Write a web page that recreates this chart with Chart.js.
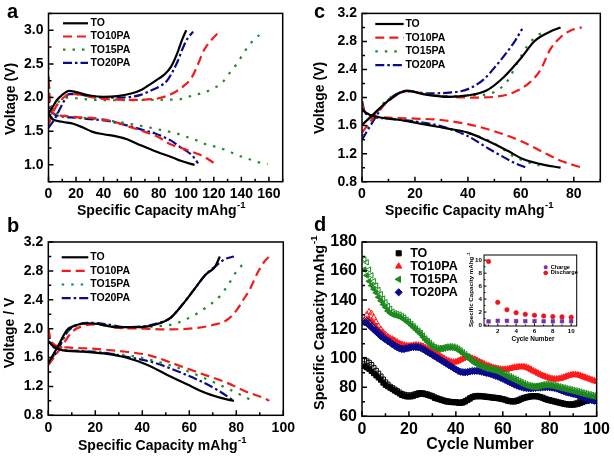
<!DOCTYPE html>
<html>
<head>
<meta charset="utf-8">
<script src="https://cdn.jsdelivr.net/npm/chart.js@4.4.1/dist/chart.umd.min.js"></script>
<style>
  html, body { margin: 0; padding: 0; background: #fff; }
  #wrap { position: relative; width: 614px; height: 456px; }
  canvas { position: absolute; left: 0; top: 0; }
</style>
</head>
<body>
<div id="wrap">
  <canvas id="ca" width="614" height="456"></canvas>
  <canvas id="cb" width="614" height="456"></canvas>
  <canvas id="cc" width="614" height="456"></canvas>
  <canvas id="cd" width="614" height="456"></canvas>
  <canvas id="ci" width="614" height="456"></canvas>
</div>
<script>
// ---- data: panel a, [capacity, voltage] ----
const aTOc = [[0,1.77],[3,1.86],[6,1.96],[10,2.04],[15,2.10],[20,2.08],[30,2.03],[40,2.01],[50,2.02],[60,2.06],[68,2.12],[74,2.20],[80,2.28],[84,2.34],[89,2.46],[93.5,2.66],[97,2.86],[100,3.0]];
const aTOd = [[0,1.76],[3,1.68],[10,1.64],[18,1.61],[25,1.555],[32,1.49],[40,1.455],[50,1.42],[57,1.38],[67,1.29],[79,1.19],[90,1.11],[96,1.06],[106,1.0]];
const a10c = [[0,1.6],[5,1.85],[10,1.98],[15,2.05],[20,2.05],[30,2.01],[40,1.98],[50,1.97],[60,1.965],[70,1.97],[80,1.99],[90,2.06],[98,2.17],[104,2.30],[108,2.47],[113,2.71],[118,2.85],[125,3.0]];
const a10d = [[0,2.28],[1,1.95],[3,1.78],[10,1.73],[20,1.71],[35,1.69],[47,1.645],[59,1.565],[70,1.49],[80,1.41],[88,1.31],[98,1.24],[106,1.18],[113,1.12],[120,1.03]];
const a15c = [[0,1.68],[3,1.8],[8,1.95],[12,2.0],[20,1.99],[30,1.97],[50,1.96],[74,1.965],[89,1.97],[97,1.98],[104.5,2.03],[112,2.07],[119,2.13],[126,2.22],[132,2.38],[137,2.51],[141,2.64],[146,2.79],[153,2.93]];
const a15d = [[0,2.45],[0.5,2.2],[1.5,2.0],[3,1.82],[6,1.76],[12,1.73],[20,1.71],[35,1.68],[50,1.64],[67,1.58],[79,1.53],[86,1.50],[94,1.46],[101,1.41],[108,1.36],[115,1.30],[123,1.26],[130,1.21],[137,1.145],[145,1.09],[152,1.04],[159,1.01]];
const a20c = [[0,1.55],[5,1.7],[10,1.9],[15,2.05],[20,2.05],[30,2.02],[40,2.0],[50,2.0],[60,2.01],[67,2.04],[74,2.1],[81,2.17],[86,2.25],[90,2.38],[94,2.55],[97,2.71],[101,2.88],[105,2.98]];
const a20d = [[0,2.05],[1,1.85],[3,1.77],[10,1.72],[20,1.7],[30,1.68],[45,1.645],[60,1.57],[70,1.51],[77,1.47],[84,1.41],[89,1.36],[96,1.26],[101,1.195],[106,1.10],[108.5,1.02]];

// ---- panel b ----
const bTOc = [[0,1.52],[4,1.75],[8,1.98],[12,2.05],[17,2.075],[22,2.06],[29,2.02],[39,2.02],[46,2.06],[52,2.15],[57,2.33],[62,2.54],[67,2.75],[71,2.86],[73,3.0]];
const bTOd = [[0,1.83],[2,1.76],[5,1.71],[15,1.68],[25,1.65],[33,1.60],[42,1.50],[50,1.37],[59,1.23],[67,1.11],[76,1.02],[79,1.0]];
const b10c = [[0,1.5],[5,1.72],[10,1.95],[15,2.04],[20,2.06],[30,2.01],[40,2.0],[50,1.99],[60,2.0],[70,2.05],[76,2.12],[80,2.25],[83,2.4],[86,2.56],[89,2.77],[92,2.93],[94,3.0]];
const b10d = [[0,2.0],[1,1.85],[3,1.77],[8,1.74],[20,1.72],[30,1.69],[43,1.63],[53,1.52],[64,1.39],[76,1.25],[84,1.13],[93,1.02],[94,1.0]];
const b15c = [[0,1.5],[4,1.72],[8,1.96],[13,2.05],[18,2.07],[25,2.04],[35,2.01],[45,2.03],[53,2.06],[60,2.15],[67,2.29],[73,2.45],[77,2.63],[80,2.79],[84,2.93]];
const b15d = [[0,1.95],[1,1.8],[4,1.72],[15,1.69],[28,1.65],[36,1.62],[43,1.57],[55,1.46],[66,1.32],[77,1.16],[87,1.0]];
const b20c = [[0,1.5],[4,1.7],[8,1.95],[12,2.05],[18,2.08],[25,2.06],[33,2.02],[40,2.03],[46,2.07],[52,2.15],[57,2.33],[62,2.54],[67,2.75],[71,2.86],[75,2.96],[79,3.0]];
const b20d = [[0,1.98],[1,1.8],[4,1.72],[15,1.69],[25,1.66],[35,1.6],[45,1.53],[55,1.41],[65,1.27],[72,1.15],[79,1.0]];

// ---- panel c ----
const cTOc = [[0,1.61],[4,1.75],[9.4,1.94],[17,2.1],[23,2.05],[33,2.01],[40,2.03],[47,2.1],[53.5,2.29],[60,2.56],[65,2.8],[67.5,2.87],[71,2.94],[75,3.0]];
const cTOd = [[0,1.84],[2,1.77],[5,1.73],[14.5,1.68],[23,1.62],[32,1.56],[40,1.5],[47,1.39],[55,1.24],[61,1.12],[67,1.055],[75,1.0]];
const c10c = [[0,1.5],[5,1.75],[10,1.95],[17,2.09],[25,2.04],[33,2.01],[42,2.0],[50,2.01],[57,2.07],[63.5,2.22],[67.5,2.4],[71,2.68],[75,2.86],[79,2.96],[83,3.0]];
const c10d = [[0,1.9],[1,1.8],[4,1.74],[12,1.71],[20,1.7],[30,1.68],[40,1.62],[50,1.52],[60,1.38],[70,1.19],[75,1.1],[83,1.0]];
const c15c = [[0,1.45],[4,1.7],[9,1.95],[17,2.09],[25,2.04],[33,2.02],[42,2.03],[50,2.08],[55,2.24],[58.6,2.49],[62.3,2.73],[66,2.88],[68,2.92]];
const c15d = [[0,1.9],[2,1.78],[5,1.73],[14.5,1.68],[23,1.63],[32,1.56],[40,1.49],[47,1.40],[52,1.3],[56,1.19],[61,1.1],[67,1.03]];
const c20c = [[0,1.4],[4,1.65],[9,1.93],[17,2.09],[25,2.06],[33,2.07],[40,2.12],[46,2.26],[51,2.47],[55,2.66],[58,2.82],[60.5,2.98]];
const c20d = [[0,1.95],[1,1.8],[3,1.74],[10,1.70],[20,1.66],[30,1.59],[40,1.45],[47,1.29],[53.5,1.15],[58,1.06],[62,1.0]];

// ---- panel d: capacity per cycle (filled = discharge, open = charge) ----
const cycles = Array.from({length: 100}, (_, i) => i + 1);
const dTOd = [94.5,93.5,92.5,91,89.5,88,86.5,85,83,81.5,
  80.5,79.5,78.5,77.5,76.5,75.5,74.5,74,73.5,73.5,
  73.5,74,74.5,75,75.5,75.3,75,74.5,74,73.5,
  72.5,72,71.5,71,70.5,70,69.8,69.6,69.5,69.4,
  69.2,69,69.3,70,71,72,73,73.5,73.6,73.6,
  73.6,73.4,73.2,73,72.8,72.6,72.4,72.2,72,71.6,
  71.2,70.6,70.2,70,70,70.4,71,71.8,72.4,72.8,
  73.2,73.5,73.6,73.6,73.4,73,72.5,71.8,71.2,70.8,
  70.4,70,69.6,69.2,68.8,68.4,68.1,67.9,67.8,67.8,
  68,68.4,69,69.6,70.2,70.6,71,71.2,71.2,71];
const dTOc = [99,98,97,95.5,93.5,91.5,89.5,87.5,85.5,83.5,
  82,80.5,79.5,78.5,77.5,76.5,75.5,75,74.5,74.5,
  74.5,75,75.5,76,76.2,76,75.6,75.2,74.6,74,
  73.2,72.6,72,71.5,71,70.6,70.3,70.1,70,69.9,
  69.7,69.6,69.9,70.6,71.6,72.6,73.5,74,74.2,74.2,
  74.1,73.9,73.7,73.5,73.3,73.1,72.9,72.7,72.4,72,
  71.6,71,70.7,70.5,70.6,71,71.6,72.3,72.9,73.3,
  73.7,74,74.1,74.1,73.9,73.5,73,72.3,71.7,71.3,
  70.9,70.5,70.1,69.7,69.3,68.9,68.6,68.4,68.3,68.5,
  68.9,69.5,70.2,70.9,71.5,71.9,72.1,72.2,72,71.8];
const d10d = [124.5,126,127,126,124,121.5,119.5,118,116.5,115,
  114,113,112.5,111.5,110.5,109.5,109,108.5,108.2,108,
  108.2,108.5,108.6,108.5,108.2,107.8,107,106,105,104.5,
  103.5,102.5,101.5,100.5,99.5,98.5,97.8,97.2,97,97.2,
  97.8,98.6,99.5,100.2,100.5,100.2,99.6,99,98.2,97.4,
  96.6,95.8,95,94.4,93.8,93.3,92.9,92.5,92.2,92,
  92,92.2,92.6,93,93.4,93.6,93.8,93.9,93.8,93.5,
  92.8,92,91,90.2,89.4,88.6,87.8,87.2,86.6,86,
  85.6,85.4,85.4,85.6,86,86.6,87.2,87.8,88.2,88.4,
  88.4,88.2,87.8,87.2,86.6,86,85.4,84.8,84.2,83.8];
const d10c = [126,130,132,131,128,125,122,120,118,116.5,
  115,114,113.3,112.3,111.3,110.3,109.7,109.2,108.9,108.7,
  108.9,109.2,109.3,109.2,108.9,108.4,107.6,106.6,105.6,105,
  104,103,102,101,100,99,98.3,97.7,97.5,97.7,
  98.3,99.1,100,100.7,101,100.7,100.1,99.5,98.7,97.9,
  97.1,96.3,95.5,94.9,94.3,93.8,93.4,93,92.7,92.5,
  92.5,92.7,93.1,93.5,93.9,94.1,94.3,94.4,94.3,94,
  93.3,92.5,91.5,90.7,89.9,89.1,88.3,87.7,87.1,86.5,
  86.1,85.9,85.9,86.1,86.5,87.1,87.7,88.3,88.7,88.9,
  88.9,88.7,88.3,87.7,87.1,86.5,85.9,85.3,84.7,84.3];
const d15d = [161,157,153,150,147.5,145,142,139.5,137,135,
  132.5,131,130,129.5,129,128.5,127.5,126.5,125.2,124,
  122.5,121,119.5,118,116.5,114.5,112.6,111,109.5,108,
  106.8,106.2,106,106.2,106.6,107,107.2,107.2,107,106.4,
  105.6,104.4,103,101.8,100.4,99,97.8,96.6,95.6,94.8,
  94,93.4,92.8,92.4,92,91.6,91.2,90.6,89.8,89,
  88.2,87.4,86.6,85.8,85,84.2,83.4,82.6,81.8,81.2,
  80.6,80.2,80,80,80.2,80.6,81,81.2,81.3,81.2,
  81,80.6,80.1,79.6,79.2,78.8,78.4,78,77.6,77.2,
  76.8,76.4,75.9,75.4,75,74.6,74.2,73.8,73.4,73];
const d15c = [168,166,161,157,153,150,147,144,141,138.5,
  136,134,132,131,130.5,130,129,128,126.5,125.2,
  123.6,122,120.5,119,117.5,115.5,113.6,112,110.5,109,
  107.8,107.2,107,107.2,107.6,108,108.2,108.2,108,107.4,
  106.6,105.4,104,102.8,101.4,100,98.8,97.6,96.6,95.8,
  95,94.4,93.8,93.4,93,92.6,92.2,91.6,90.8,90,
  89.2,88.4,87.6,86.8,86,85.2,84.4,83.6,82.8,82.2,
  81.6,81.2,81,81,81.2,81.6,82,82.2,82.3,82.2,
  82,81.6,81.1,80.6,80.2,79.8,79.4,79,78.6,78.2,
  77.8,77.4,76.9,76.4,76,75.6,75.2,74.8,74.4,74];
const d20d = [124.5,124,122.5,121,119.5,118,116.5,115,113.8,112.6,
  111.5,110.5,109.2,108.2,107.2,106.4,106,106,106.4,106.8,
  107.2,107.4,107.4,107.2,106.8,106,105,104,103,102,
  101,100,99,98,97,96,95,94,93,92,
  91,90.4,90.1,90,90.2,90.6,90.9,91,91,90.8,
  90.4,90,89.6,89.2,88.8,88.2,87.6,87,86.4,85.6,
  84.8,84,83.2,82.4,81.6,80.9,80.3,79.8,79.4,79.2,
  79,79,79.1,79.3,79.5,79.6,79.7,79.8,79.8,79.7,
  79.5,79.2,78.8,78.2,77.6,77,76.4,76,75.6,75.2,
  74.8,74.2,73.6,73,72.4,71.8,71.2,70.8,70.4,70.2];
const d20c = [126,126,124.5,122.5,121,119.5,118,116.5,115,113.6,
  112.4,111.3,110,109,108,107.2,106.8,106.8,107.2,107.5,
  107.8,108,108,107.8,107.4,106.6,105.6,104.6,103.6,102.6,
  101.6,100.6,99.6,98.6,97.6,96.6,95.6,94.6,93.6,92.6,
  91.6,91,90.7,90.6,90.8,91.2,91.5,91.6,91.6,91.4,
  91,90.6,90.2,89.8,89.4,88.8,88.2,87.6,87,86.2,
  85.4,84.6,83.8,83,82.2,81.5,80.9,80.4,80,79.8,
  79.6,79.6,79.7,79.9,80.1,80.2,80.3,80.4,80.4,80.3,
  80.1,79.8,79.4,78.8,78.2,77.6,77,76.6,76.2,75.8,
  75.4,74.8,74.2,73.6,73,72.4,71.8,71.4,71,70.8];

// ---- inset ----
const insetCycles = [1,2,3,4,5,6,7,8,9,10];
const insetCharge = [0.55,0.65,0.65,0.6,0.6,0.6,0.58,0.58,0.58,0.58];
const insetDischarge = [9.8,3.5,2.35,1.9,1.65,1.5,1.4,1.3,1.25,1.2];

// ---- tick labels ----
const aXTicks = [0,20,40,60,80,100,120,140,160];
const aYTicks = [1.0,1.5,2.0,2.5,3.0];
const bXTicks = [0,20,40,60,80,100];
const cXTicks = [0,20,40,60,80];
const bcYTicks = [0.8,1.2,1.6,2.0,2.4,2.8,3.2];
const dXTicks = [0,20,40,60,80,100];
const dYTicks = [60,80,100,120,140,160,180];
const iXTicks = [2,4,6,8,10];
const iYTicks = [0,2,4,6,8,10];

const names = ['TO', 'TO10PA', 'TO15PA', 'TO20PA'];

const FONT = "'Liberation Sans', Arial, Helvetica, sans-serif";
const bold = s => ({family: FONT, weight: 'bold', size: s});

const lineStyle = {
  TO: {color: '#000000', dash: []},
  TO10PA: {color: '#f01c1c', dash: [9, 5]},
  TO15PA: {color: '#21892a', dash: [2.5, 7]},
  TO20PA: {color: '#0b0b86', dash: [9, 3, 2.5, 3]}
};
const markStyle = {
  TO: {color: '#000000', shape: 'rect', rot: 0},
  TO10PA: {color: '#ff1a1a', shape: 'triangle', rot: 0},
  TO15PA: {color: '#1c8a1c', shape: 'triangle', rot: -90},
  TO20PA: {color: '#0a0a8c', shape: 'rectRot', rot: 0}
};

// box + inward ticks (major and minor)
const frame = {
  id: 'frame',
  afterDatasetsDraw(chart, args, o) {
    const {ctx, chartArea: a} = chart;
    ctx.save();
    ctx.strokeStyle = '#000';
    ctx.lineWidth = o.lw;
    ctx.strokeRect(a.left, a.top, a.right - a.left, a.bottom - a.top);
    ctx.beginPath();
    const mark = (s, v, len) => {
      if (v < s.min - 1e-9 || v > s.max + 1e-9) return;
      const p = s.getPixelForValue(v);
      if (s.axis === 'x') { ctx.moveTo(p, a.bottom); ctx.lineTo(p, a.bottom - len); }
      else { ctx.moveTo(a.left, p); ctx.lineTo(a.left + len, p); }
    };
    [chart.scales.x, chart.scales.y].forEach(s => {
      const v = s.ticks.map(t => t.value);
      const st = v[1] - v[0];
      v.forEach(x => mark(s, x, o.major));
      [v[0] - st / 2, ...v.map(x => x + st / 2)].forEach(x => mark(s, x, o.minor));
    });
    ctx.stroke();
    ctx.restore();
  }
};

// line legend for the voltage panels
const lineLegend = {
  id: 'lineLegend',
  afterDraw(chart, args, o) {
    if (!o || o.x === undefined) return;
    const ctx = chart.ctx;
    ctx.save();
    ctx.font = o.font;
    ctx.textBaseline = 'middle';
    chart.data.datasets.filter(d => d.inLegend).forEach((d, i) => {
      const y = o.y + i * o.dy;
      ctx.strokeStyle = d.borderColor;
      ctx.lineWidth = d.borderWidth;
      ctx.setLineDash(d.borderDash);
      ctx.beginPath(); ctx.moveTo(o.x, y); ctx.lineTo(o.x + o.len, y); ctx.stroke();
      ctx.setLineDash([]);
      ctx.fillStyle = '#000';
      ctx.fillText(d.label, o.x + o.len + o.gap, y);
    });
    ctx.restore();
  }
};

// marker legend for the cycling panel and inset
const ptLegend = {
  id: 'ptLegend',
  afterDraw(chart, args, o) {
    if (!o || o.x === undefined) return;
    const ctx = chart.ctx;
    ctx.save();
    ctx.font = o.font;
    ctx.textBaseline = 'middle';
    chart.data.datasets.filter(d => d.inLegend).forEach((d, i) => {
      const y = o.y + i * o.dy;
      ctx.fillStyle = d.backgroundColor;
      ctx.strokeStyle = d.borderColor;
      ctx.lineWidth = 1;
      Chart.helpers.drawPoint(ctx, {pointStyle: d.pointStyle, radius: o.r, rotation: d.rotation || 0, borderWidth: 1}, o.x, y);
      ctx.fillStyle = '#000';
      ctx.fillText(d.label, o.x + o.gap, y);
    });
    ctx.restore();
  }
};

// axis titles and panel letters
const TEXTS = [
  {t: 'a', x: 7, y: 18, size: 20, letter: true},
  {t: 'b', x: 7, y: 232, size: 20, letter: true},
  {t: 'c', x: 314, y: 18, size: 20, letter: true},
  {t: 'd', x: 314, y: 231, size: 20, letter: true},
  {t: 'Voltage (V)', x: 11, y: 99, size: 14, rot: true},
  {t: 'Specific Capacity mAhg', sup: '-1', x: 161, y: 211, size: 14},
  {t: 'Voltage / V', x: 10, y: 333, size: 14, rot: true},
  {t: 'Specific Capacity mAhg', sup: '-1', x: 162, y: 446, size: 14},
  {t: 'Voltage (V)', x: 320, y: 98, size: 14, rot: true},
  {t: 'Specific Capacity mAhg', sup: '-1', x: 469, y: 211, size: 14},
  {t: 'Specific Capacity mAhg', sup: '-1', x: 320, y: 323, size: 14.5, rot: true},
  {t: 'Cycle Number', x: 480, y: 445, size: 16},
  {t: 'Specific Capacity mAhg', sup: '-1', x: 471, y: 290, size: 6.2, rot: true},
  {t: 'Cycle Number', x: 533, y: 339, size: 6.4}
];
const texts = {
  id: 'texts',
  afterDraw(chart) {
    const ctx = chart.ctx;
    TEXTS.forEach(e => {
      ctx.save();
      ctx.fillStyle = '#000';
      ctx.font = `bold ${e.size}px ${FONT}`;
      if (e.letter) {
        ctx.textBaseline = 'alphabetic';
        ctx.fillText(e.t, e.x, e.y);
        ctx.restore();
        return;
      }
      ctx.textBaseline = 'middle';
      ctx.translate(e.x, e.y);
      if (e.rot) ctx.rotate(-Math.PI / 2);
      const w = ctx.measureText(e.t).width;
      let ws = 0;
      const supFont = `bold ${e.size * 0.68}px ${FONT}`;
      if (e.sup) { ctx.font = supFont; ws = ctx.measureText(e.sup).width; ctx.font = `bold ${e.size}px ${FONT}`; }
      const x0 = -(w + ws) / 2;
      ctx.fillText(e.t, x0, 0);
      if (e.sup) { ctx.font = supFont; ctx.fillText(e.sup, x0 + w + 0.5, -e.size * 0.42); }
      ctx.restore();
    });
  }
};

function axis(min, max, ticks, dec, size, fit, pad) {
  return {
    type: 'linear', min: min, max: max,
    afterBuildTicks: s => { s.ticks = ticks.map(v => ({value: v})); },
    afterFit: fit,
    grid: {display: false, drawTicks: false},
    border: {display: false},
    ticks: {autoSkip: false, maxRotation: 0, padding: pad, color: '#000', font: bold(size),
      callback: v => Number(v).toFixed(dec)}
  };
}

function lineSets(c1, d1, c2, d2, c3, d3, c4, d4) {
  const src = [[c1, d1], [c2, d2], [c3, d3], [c4, d4]];
  const out = [];
  src.forEach((pair, i) => {
    const st = lineStyle[names[i]];
    pair.forEach((arr, k) => {
      out.push({
        label: names[i], inLegend: k === 0,
        data: arr.map(p => ({x: p[0], y: p[1]})),
        showLine: true, pointRadius: 0, borderWidth: 2.2,
        borderColor: st.color, backgroundColor: st.color, borderDash: st.dash,
        cubicInterpolationMode: 'monotone', fill: false
      });
    });
  });
  return out;
}

// plot box edges in page pixels: left, top, right, bottom
function panel(id, sets, box, xr, yr, xt, yt, xdec, ydec, fs, legend, extra) {
  const W = 614, H = 456;
  return new Chart(document.getElementById(id), {
    type: 'scatter',
    data: {datasets: sets},
    options: {
      responsive: false, animation: false, events: [],
      layout: {padding: {left: 0, top: box[1], right: W - box[2], bottom: 0}},
      scales: {
        x: axis(xr[0], xr[1], xt, xdec, fs, s => { s.height = H - box[3]; }, 4),
        y: axis(yr[0], yr[1], yt, ydec, fs, s => { s.width = box[0]; }, 5)
      },
      plugins: Object.assign({legend: {display: false}, tooltip: {enabled: false},
        frame: {lw: 1.5, major: 5, minor: 3}}, legend)
    },
    plugins: [frame, lineLegend, ptLegend].concat(extra || [])
  });
}

const legFont = `bold 10.5px ${FONT}`;

panel('ca', lineSets(aTOc, aTOd, a10c, a10d, a15c, a15d, a20c, a20d),
  [48.5, 9.3, 282.7, 181.7], [0, 170], [0.75, 3.25], aXTicks, aYTicks, 0, 1, 14,
  {lineLegend: {x: 63, y: 23.3, dy: 13.2, len: 25, gap: 2.5, font: legFont}}, [texts]);

panel('cb', lineSets(bTOc, bTOd, b10c, b10d, b15c, b15d, b20c, b20d),
  [48.3, 242, 283.3, 415.3], [0, 100], [0.8, 3.2], bXTicks, bcYTicks, 0, 1, 14,
  {lineLegend: {x: 61.7, y: 257.3, dy: 13.6, len: 26.6, gap: 2, font: legFont}});

panel('cc', lineSets(cTOc, cTOd, c10c, c10d, c15c, c15d, c20c, c20d),
  [362, 9.3, 600.3, 181.7], [0, 90], [0.8, 3.2], cXTicks, bcYTicks, 0, 1, 14,
  {lineLegend: {x: 375.3, y: 24, dy: 13.7, len: 28.4, gap: 1.7, font: legFont}});

// cycling panel: open (charge) under filled (discharge); green on top
const dSrc = {TO: [dTOd, dTOc], TO10PA: [d10d, d10c], TO15PA: [d15d, d15c], TO20PA: [d20d, d20c]};
const drawRank = {TO15PA: 0, TO20PA: 2, TO10PA: 4, TO: 6};
const dSets = [];
names.forEach(n => {
  const m = markStyle[n];
  dSrc[n].forEach((arr, k) => {
    dSets.push({
      label: n, inLegend: k === 0, order: drawRank[n] + k,
      data: cycles.map((c, i) => ({x: c, y: arr[i]})),
      pointStyle: m.shape, rotation: m.rot, pointRadius: 3.2, borderWidth: 1,
      borderColor: m.color, backgroundColor: k === 0 ? m.color : 'rgba(0,0,0,0)'
    });
  });
});
panel('cd', dSets, [362, 242, 599.7, 416.3], [0, 100], [60, 180], dXTicks, dYTicks, 0, 0, 16,
  {ptLegend: {x: 398.7, y: 253.3, dy: 13, r: 3.6, gap: 11.5, font: `bold 12.5px ${FONT}`}});

// inset
const iSets = [
  {label: 'Charge', inLegend: true, data: insetCycles.map((c, i) => ({x: c, y: insetCharge[i]})),
    pointStyle: 'rect', pointRadius: 2.6, borderWidth: 0.5, borderColor: '#7a2ea8', backgroundColor: '#7a2ea8'},
  {label: 'Discharge', inLegend: true, data: insetCycles.map((c, i) => ({x: c, y: insetDischarge[i]})),
    pointStyle: 'circle', pointRadius: 2.3, borderWidth: 0.5, borderColor: '#e8161c', backgroundColor: '#e8161c'}
];
const inset = panel('ci', iSets, [484, 255, 576.7, 326], [0.5, 10.6], [-0.15, 10.8], iXTicks, iYTicks, 0, 0, 6.2,
  {ptLegend: {x: 545.7, y: 267.3, dy: 5.6, r: 1.9, gap: 5, font: `bold 5.6px ${FONT}`},
   frame: {lw: 1, major: 2.5, minor: 1.5}});
inset.options.scales.x.ticks.padding = 1.5;
inset.options.scales.y.ticks.padding = 2;
inset.update();
</script>
</body>
</html>
